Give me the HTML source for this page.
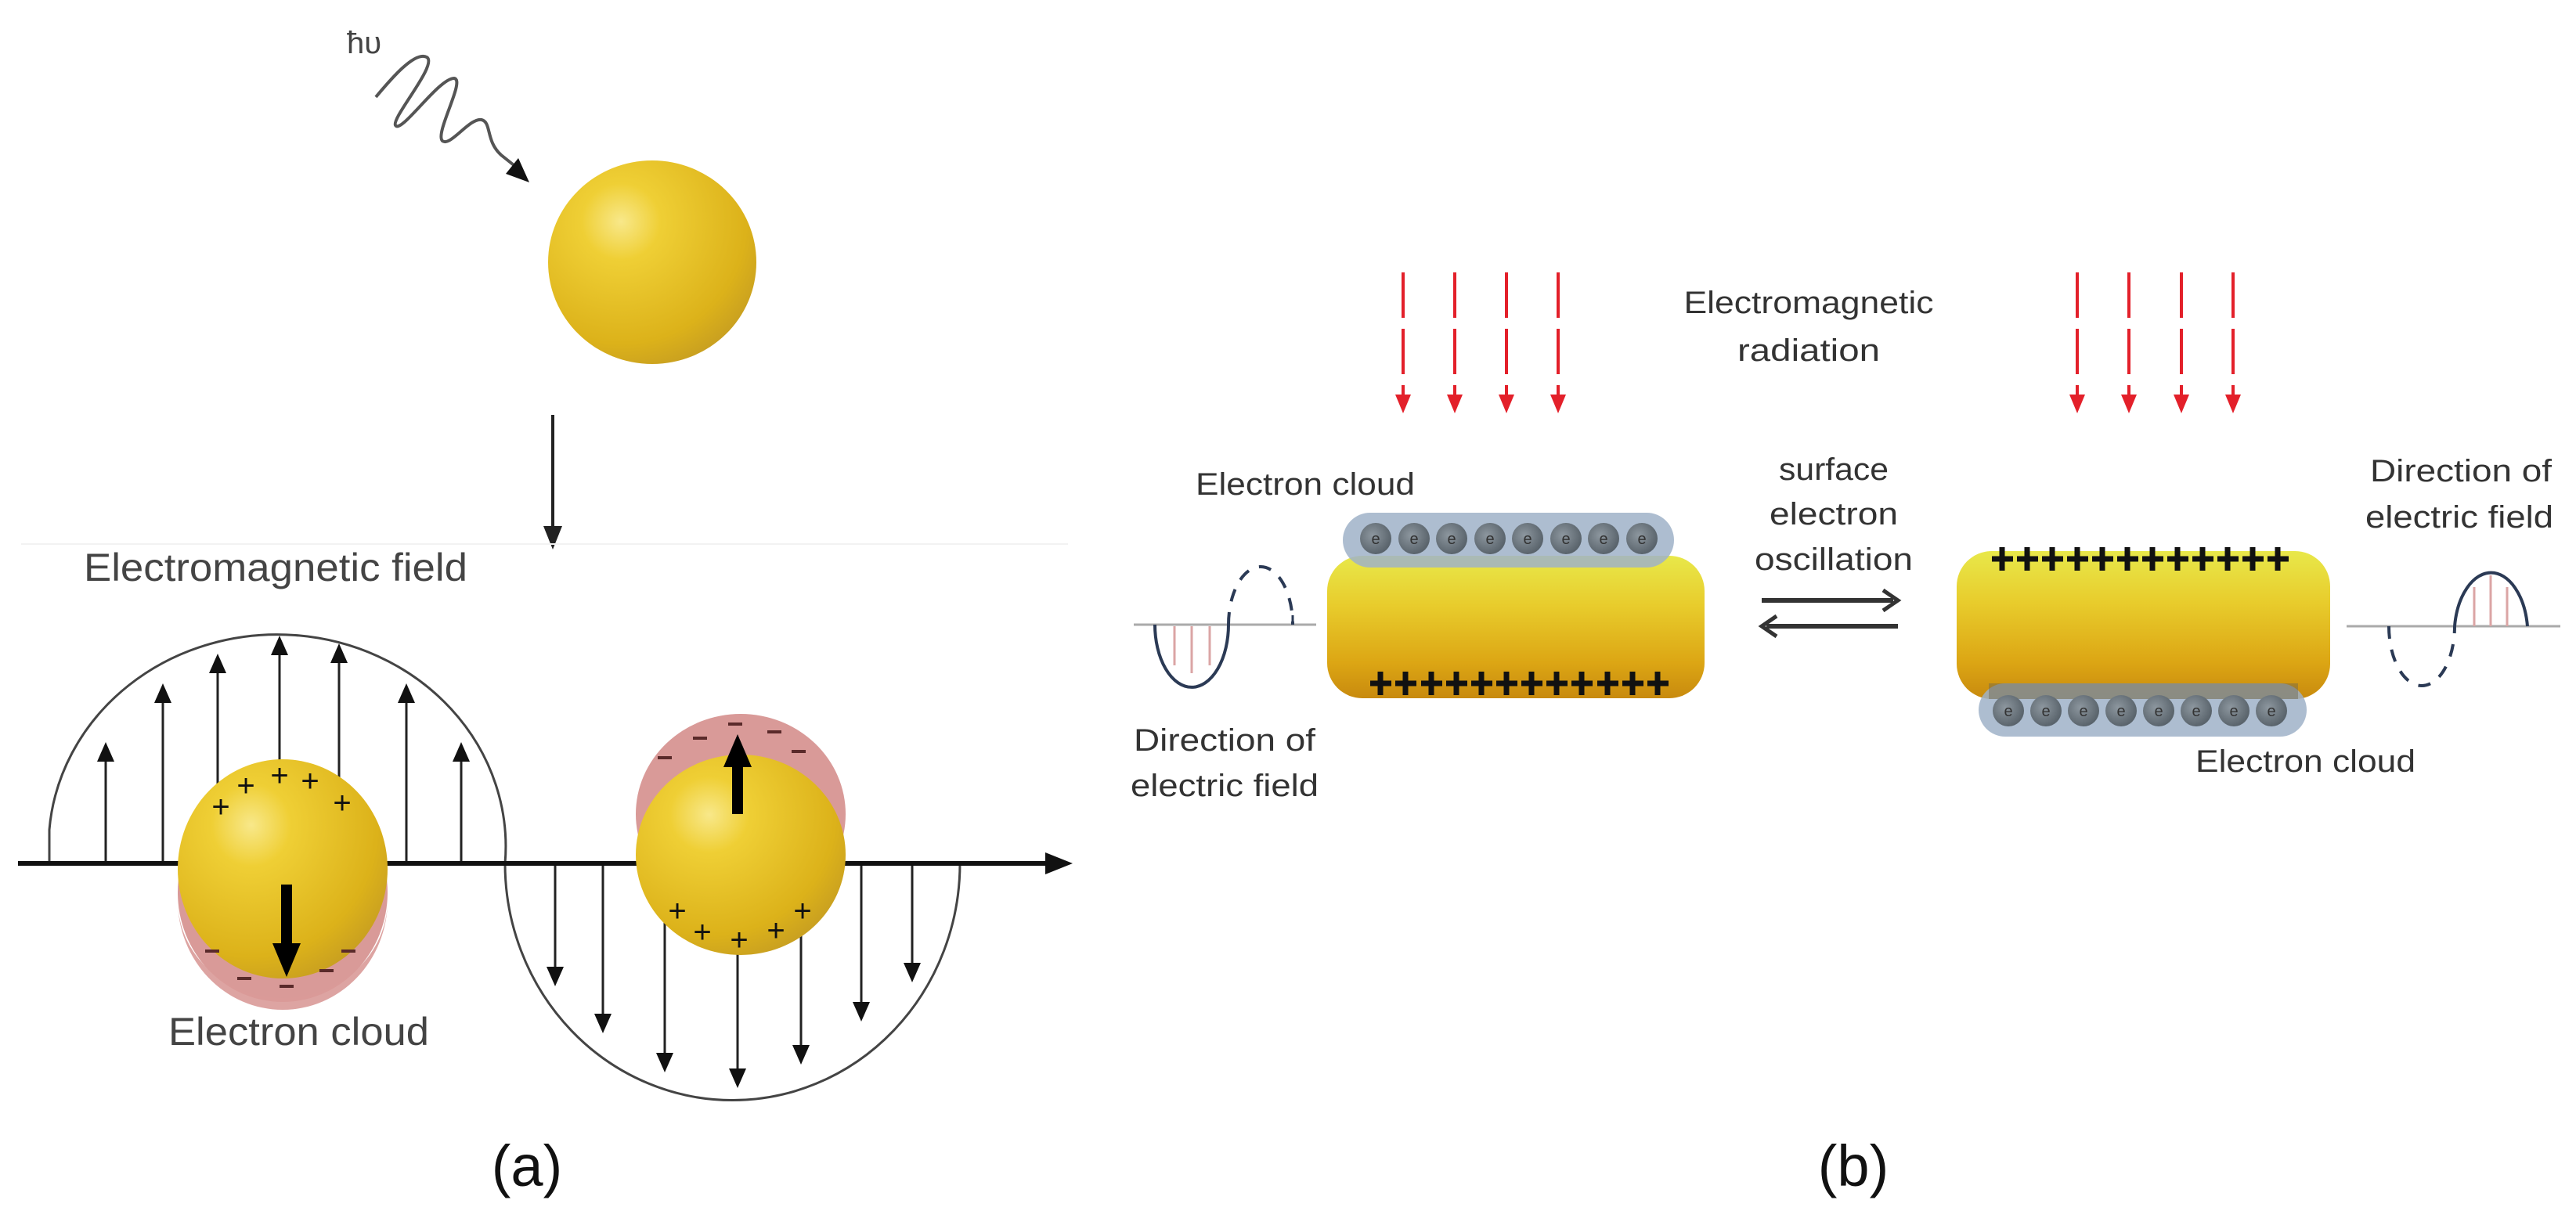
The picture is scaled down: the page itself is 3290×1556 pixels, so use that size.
<!DOCTYPE html>
<html><head><meta charset="utf-8"><style>
html,body{margin:0;padding:0;background:#fff;}
svg{display:block;}
text{font-family:"Liberation Sans",sans-serif;}
</style></head><body>
<svg width="3290" height="1556" viewBox="0 0 3290 1556" xmlns="http://www.w3.org/2000/svg">
<defs>
<radialGradient id="sph" cx="0.35" cy="0.3" r="0.75">
<stop offset="0" stop-color="#f8e88a"/><stop offset="0.25" stop-color="#efcf35"/><stop offset="0.8" stop-color="#dcb21a"/><stop offset="1" stop-color="#c9a020"/>
</radialGradient>
<linearGradient id="rod" x1="0" y1="0" x2="0" y2="1">
<stop offset="0" stop-color="#e8e84a"/><stop offset="0.35" stop-color="#e8cc2c"/><stop offset="0.75" stop-color="#dca614"/><stop offset="1" stop-color="#c88a0e"/>
</linearGradient>
<radialGradient id="el" cx="0.4" cy="0.4" r="0.6">
<stop offset="0" stop-color="#8d979f"/><stop offset="1" stop-color="#5a646c"/>
</radialGradient>
</defs>

<!-- ===== Panel (a) ===== -->
<text x="443" y="68" font-size="40" fill="#444">ħυ</text>
<path d="M480,124 C500,100 530,65 545,73 C560,82 500,150 505,160 C512,172 560,100 580,100 C595,102 555,170 565,180 C575,188 600,150 615,153 C628,156 620,180 640,198 L660,214" fill="none" stroke="#555" stroke-width="4"/>
<polygon points="676,233 646,222 662,202" fill="#111"/>
<ellipse cx="833" cy="335" rx="133" ry="130" fill="url(#sph)"/>
<line x1="706" y1="530" x2="706" y2="680" stroke="#222" stroke-width="4"/>
<polygon points="694,672 718,672 706,702" fill="#222"/>
<line x1="27" y1="695" x2="1364" y2="695" stroke="#f2f2f2" stroke-width="2"/>
<text x="107" y="742" font-size="50" fill="#444" textLength="490" lengthAdjust="spacingAndGlyphs">Electromagnetic field</text>

<path d="M63,1103 L63,1060 A291,270 0 0 1 645,1103 A290,302 0 0 0 1226,1103" fill="none" stroke="#444" stroke-width="3"/>
<g stroke="#222" stroke-width="3">
<line x1="135" y1="1103" x2="135" y2="970"/><line x1="208" y1="1103" x2="208" y2="895"/><line x1="278" y1="1103" x2="278" y2="857"/><line x1="357" y1="1103" x2="357" y2="834"/><line x1="433" y1="1103" x2="433" y2="844"/><line x1="519" y1="1103" x2="519" y2="895"/><line x1="589" y1="1103" x2="589" y2="970"/>
<line x1="709" y1="1103" x2="709" y2="1238"/><line x1="770" y1="1103" x2="770" y2="1298"/><line x1="849" y1="1103" x2="849" y2="1348"/><line x1="942" y1="1103" x2="942" y2="1368"/><line x1="1023" y1="1103" x2="1023" y2="1338"/><line x1="1100" y1="1103" x2="1100" y2="1283"/><line x1="1165" y1="1103" x2="1165" y2="1233"/>
</g>
<g fill="#111">
<polygon points="124,973 146,973 135,948"/><polygon points="197,898 219,898 208,873"/><polygon points="267,860 289,860 278,835"/><polygon points="346,837 368,837 357,812"/><polygon points="422,847 444,847 433,822"/><polygon points="508,898 530,898 519,873"/><polygon points="578,973 600,973 589,948"/>
<polygon points="698,1235 720,1235 709,1260"/><polygon points="759,1295 781,1295 770,1320"/><polygon points="838,1345 860,1345 849,1370"/><polygon points="931,1365 953,1365 942,1390"/><polygon points="1012,1335 1034,1335 1023,1360"/><polygon points="1089,1280 1111,1280 1100,1305"/><polygon points="1154,1230 1176,1230 1165,1255"/>
</g>
<line x1="23" y1="1103" x2="1340" y2="1103" stroke="#111" stroke-width="6"/>
<polygon points="1335,1089 1335,1117 1370,1103" fill="#111"/>

<!-- left sphere -->
<ellipse cx="361" cy="1140" rx="134" ry="140" fill="#d99a98"/>
<ellipse cx="361" cy="1110" rx="134" ry="140" fill="url(#sph)"/>
<path d="M227,1150 A134,140 0 0 0 495,1150 A134,125 0 0 1 227,1150Z" fill="#d99a98" opacity="0.9"/>
<g font-size="40" fill="#111" text-anchor="middle">
<text x="282" y="1044">+</text><text x="314" y="1017">+</text><text x="357" y="1004">+</text><text x="396" y="1011">+</text><text x="437" y="1039">+</text>
</g>
<g stroke="#5a2a2a" stroke-width="4">
<line x1="262" y1="1215" x2="280" y2="1215"/><line x1="303" y1="1250" x2="321" y2="1250"/><line x1="357" y1="1260" x2="375" y2="1260"/><line x1="408" y1="1240" x2="426" y2="1240"/><line x1="436" y1="1215" x2="454" y2="1215"/>
</g>
<line x1="366" y1="1130" x2="366" y2="1210" stroke="#000" stroke-width="14"/>
<polygon points="348,1205 384,1205 366,1248" fill="#000"/>

<!-- right sphere -->
<ellipse cx="946" cy="1040" rx="134" ry="128" fill="#d99a98"/>
<ellipse cx="946" cy="1092" rx="134" ry="128" fill="url(#sph)"/>
<g stroke="#5a2a2a" stroke-width="4">
<line x1="885" y1="943" x2="903" y2="943"/><line x1="930" y1="925" x2="948" y2="925"/><line x1="980" y1="935" x2="998" y2="935"/><line x1="1011" y1="960" x2="1029" y2="960"/><line x1="840" y1="968" x2="858" y2="968"/>
</g>
<g font-size="40" fill="#111" text-anchor="middle">
<text x="865" y="1177">+</text><text x="897" y="1204">+</text><text x="944" y="1214">+</text><text x="991" y="1202">+</text><text x="1025" y="1177">+</text>
</g>
<line x1="942" y1="1040" x2="942" y2="975" stroke="#000" stroke-width="14"/>
<polygon points="924,980 960,980 942,938" fill="#000"/>

<text x="215" y="1335" font-size="50" fill="#444" textLength="333" lengthAdjust="spacingAndGlyphs">Electron cloud</text>
<text x="673" y="1515" font-size="74" fill="#111" text-anchor="middle" font-family="Liberation Serif, serif">(a)</text>

<!-- ===== Panel (b) ===== -->
<g stroke="#e3202a" stroke-width="4" stroke-dasharray="58 14">
<line x1="1792" y1="348" x2="1792" y2="510"/><line x1="1858" y1="348" x2="1858" y2="510"/><line x1="1924" y1="348" x2="1924" y2="510"/><line x1="1990" y1="348" x2="1990" y2="510"/>
<line x1="2653" y1="348" x2="2653" y2="510"/><line x1="2719" y1="348" x2="2719" y2="510"/><line x1="2786" y1="348" x2="2786" y2="510"/><line x1="2852" y1="348" x2="2852" y2="510"/>
</g>
<g fill="#e3202a">
<polygon points="1782,504 1802,504 1792,528"/><polygon points="1848,504 1868,504 1858,528"/><polygon points="1914,504 1934,504 1924,528"/><polygon points="1980,504 2000,504 1990,528"/>
<polygon points="2643,504 2663,504 2653,528"/><polygon points="2709,504 2729,504 2719,528"/><polygon points="2776,504 2796,504 2786,528"/><polygon points="2842,504 2862,504 2852,528"/>
</g>
<g font-size="40" fill="#333" text-anchor="middle">
<text x="2310" y="400" textLength="319" lengthAdjust="spacingAndGlyphs">Electromagnetic</text>
<text x="2310" y="461" textLength="182" lengthAdjust="spacingAndGlyphs">radiation</text>
<text x="2342" y="613" textLength="140" lengthAdjust="spacingAndGlyphs">surface</text>
<text x="2342" y="670" textLength="164" lengthAdjust="spacingAndGlyphs">electron</text>
<text x="2342" y="728" textLength="202" lengthAdjust="spacingAndGlyphs">oscillation</text>
</g>
<line x1="2250" y1="767" x2="2418" y2="767" stroke="#333" stroke-width="6"/>
<polyline points="2405,754 2424,767 2405,780" fill="none" stroke="#333" stroke-width="5"/>
<line x1="2256" y1="800" x2="2424" y2="800" stroke="#333" stroke-width="6"/>
<polyline points="2269,787 2250,800 2269,813" fill="none" stroke="#333" stroke-width="5"/>

<!-- left rod -->
<rect x="1695" y="710" width="482" height="182" rx="45" fill="url(#rod)"/>
<rect x="1715" y="655" width="423" height="70" rx="35" fill="#9fb2c8" opacity="0.85"/>
<g fill="url(#el)">
<circle cx="1757" cy="688" r="20"/><circle cx="1806" cy="688" r="20"/><circle cx="1854" cy="688" r="20"/><circle cx="1903" cy="688" r="20"/><circle cx="1951" cy="688" r="20"/><circle cx="2000" cy="688" r="20"/><circle cx="2048" cy="688" r="20"/><circle cx="2097" cy="688" r="20"/>
</g>
<g font-size="20" fill="#333" text-anchor="middle">
<text x="1757" y="695">e</text><text x="1806" y="695">e</text><text x="1854" y="695">e</text><text x="1903" y="695">e</text><text x="1951" y="695">e</text><text x="2000" y="695">e</text><text x="2048" y="695">e</text><text x="2097" y="695">e</text>
</g>
<path d="M1750,873h27M1763,858v30 M1782,873h27M1795,858v30 M1815,873h27M1828,858v30 M1847,873h27M1860,858v30 M1879,873h27M1892,858v30 M1911,873h27M1924,858v30 M1943,873h27M1956,858v30 M1975,873h27M1988,858v30 M2007,873h27M2020,858v30 M2040,873h27M2053,858v30 M2072,873h27M2085,858v30 M2104,873h27M2117,858v30" stroke="#111" stroke-width="7"/>

<text x="1527" y="632" font-size="40" fill="#333" textLength="280" lengthAdjust="spacingAndGlyphs">Electron cloud</text>

<!-- left wave -->
<line x1="1448" y1="798" x2="1681" y2="798" stroke="#aaa" stroke-width="3"/>
<g stroke="#dba5a5" stroke-width="3">
<line x1="1500" y1="800" x2="1500" y2="850"/><line x1="1522" y1="800" x2="1522" y2="860"/><line x1="1545" y1="800" x2="1545" y2="850"/>
</g>
<path d="M1475,798 A47,80 0 0 0 1569,798" fill="none" stroke="#2b3a55" stroke-width="4"/>
<path d="M1569,798 A41,74 0 0 1 1651,798" fill="none" stroke="#2b3a55" stroke-width="4" stroke-dasharray="16 14"/>
<line x1="1651" y1="798" x2="1651" y2="786" stroke="#2b3a55" stroke-width="3"/>
<text x="1448" y="959" font-size="40" fill="#333" textLength="232" lengthAdjust="spacingAndGlyphs">Direction of</text>
<text x="1444" y="1017" font-size="40" fill="#333" textLength="240" lengthAdjust="spacingAndGlyphs">electric field</text>

<!-- right rod -->
<rect x="2499" y="704" width="477" height="189" rx="45" fill="url(#rod)"/>
<rect x="2527" y="873" width="419" height="68" rx="34" fill="#9fb2c8" opacity="0.85"/>
<rect x="2540" y="873" width="395" height="20" fill="#6d6650" opacity="0.45"/>
<g fill="url(#el)">
<circle cx="2565" cy="908" r="20"/><circle cx="2613" cy="908" r="20"/><circle cx="2661" cy="908" r="20"/><circle cx="2709" cy="908" r="20"/><circle cx="2757" cy="908" r="20"/><circle cx="2805" cy="908" r="20"/><circle cx="2853" cy="908" r="20"/><circle cx="2901" cy="908" r="20"/>
</g>
<g font-size="20" fill="#333" text-anchor="middle">
<text x="2565" y="915">e</text><text x="2613" y="915">e</text><text x="2661" y="915">e</text><text x="2709" y="915">e</text><text x="2757" y="915">e</text><text x="2805" y="915">e</text><text x="2853" y="915">e</text><text x="2901" y="915">e</text>
</g>
<path d="M2544,714h27M2557,699v30 M2576,714h27M2589,699v30 M2608,714h27M2621,699v30 M2640,714h27M2653,699v30 M2672,714h27M2685,699v30 M2704,714h27M2717,699v30 M2736,714h27M2749,699v30 M2768,714h27M2781,699v30 M2800,714h27M2813,699v30 M2832,714h27M2845,699v30 M2864,714h27M2877,699v30 M2896,714h27M2909,699v30" stroke="#111" stroke-width="7"/>
<text x="2804" y="986" font-size="40" fill="#333" textLength="281" lengthAdjust="spacingAndGlyphs">Electron cloud</text>

<!-- right wave -->
<line x1="2997" y1="800" x2="3270" y2="800" stroke="#aaa" stroke-width="3"/>
<g stroke="#dba5a5" stroke-width="3">
<line x1="3160" y1="800" x2="3160" y2="750"/><line x1="3181" y1="800" x2="3181" y2="735"/><line x1="3202" y1="800" x2="3202" y2="750"/>
</g>
<path d="M3135,800 A47,80 0 0 1 3228,800" fill="none" stroke="#2b3a55" stroke-width="4"/>
<path d="M3051,800 A42,76 0 0 0 3135,800" fill="none" stroke="#2b3a55" stroke-width="4" stroke-dasharray="16 14"/>
<line x1="3051" y1="800" x2="3051" y2="812" stroke="#2b3a55" stroke-width="3"/>
<text x="3027" y="615" font-size="40" fill="#333" textLength="232" lengthAdjust="spacingAndGlyphs">Direction of</text>
<text x="3021" y="674" font-size="40" fill="#333" textLength="240" lengthAdjust="spacingAndGlyphs">electric field</text>

<text x="2367" y="1515" font-size="74" fill="#111" text-anchor="middle" font-family="Liberation Serif, serif">(b)</text>
</svg>
</body></html>
